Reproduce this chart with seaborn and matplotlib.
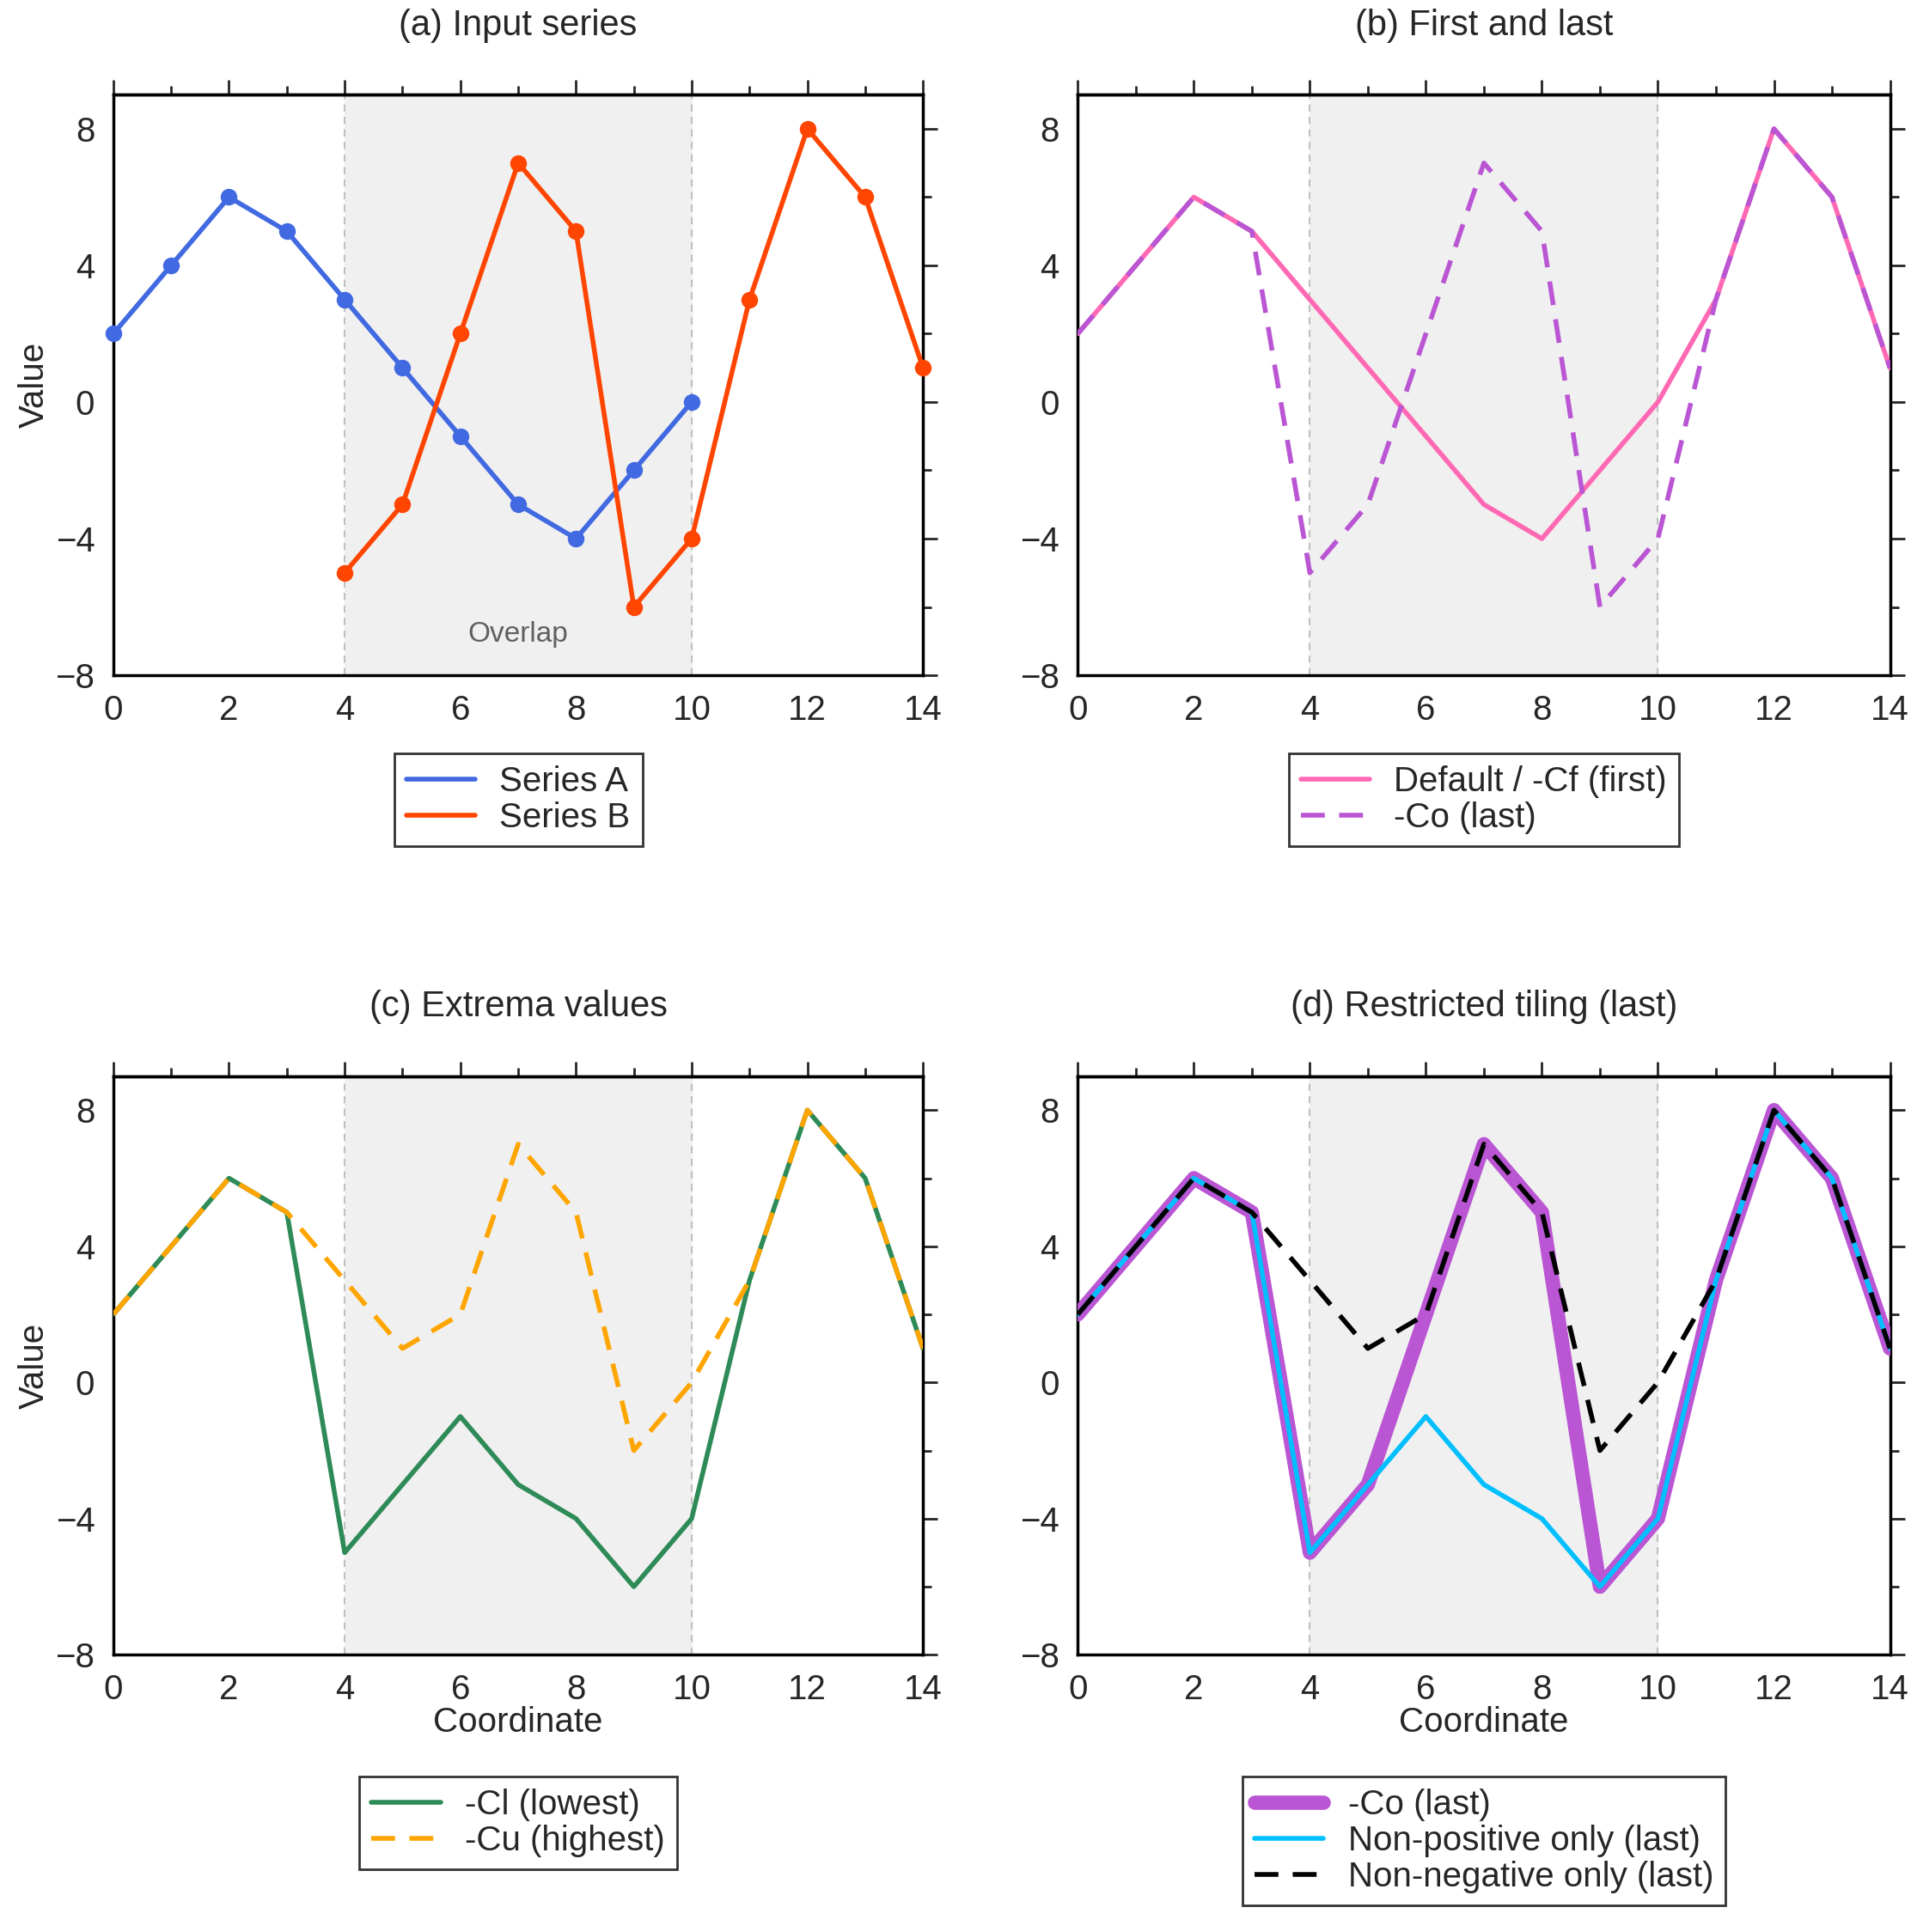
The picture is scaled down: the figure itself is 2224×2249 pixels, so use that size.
import numpy as np
import pandas as pd
import matplotlib
matplotlib.use("Agg")
import matplotlib.pyplot as plt
from matplotlib.lines import Line2D
import seaborn as sns

sns.set_style("white")
plt.rcParams['font.family'] = ['Liberation Sans', 'DejaVu Sans']

xa = list(range(0, 11))
series_a = [2, 4, 6, 5, 3, 1, -1, -3, -4, -2, 0]
xb = list(range(4, 15))
series_b = [-5, -3, 2, 7, 5, -6, -4, 3, 8, 6, 1]
xf = list(range(0, 15))
first = [2, 4, 6, 5, 3, 1, -1, -3, -4, -2, 0, 3, 8, 6, 1]
last = [2, 4, 6, 5, -5, -3, 2, 7, 5, -6, -4, 3, 8, 6, 1]
lowest = [2, 4, 6, 5, -5, -3, -1, -3, -4, -6, -4, 3, 8, 6, 1]
highest = [2, 4, 6, 5, 3, 1, 2, 7, 5, -2, 0, 3, 8, 6, 1]
nonpos = [2, 4, 6, 5, -5, -3, -1, -3, -4, -6, -4, 3, 8, 6, 1]
nonneg = [2, 4, 6, 5, 3, 1, 2, 7, 5, -2, 0, 3, 8, 6, 1]

FS = 29
fig = plt.figure(figsize=(22.24, 22.49), dpi=100)
L1, R1, L2, R2 = 0.0593, 0.483, 0.564, 0.989
T1, B1, T2, B2 = 0.951, 0.6505, 0.443, 0.1435
axes = [fig.add_axes([L1, B1, R1 - L1, T1 - B1]),
        fig.add_axes([L2, B1, R2 - L2, T1 - B1]),
        fig.add_axes([L1, B2, R1 - L1, T2 - B2]),
        fig.add_axes([L2, B2, R2 - L2, T2 - B2])]
titles = ["(a) Input series", "(b) First and last", "(c) Extrema values", "(d) Restricted tiling (last)"]

for i, ax in enumerate(axes):
    ax.axvspan(4, 10, color="#f0f0f0", zorder=0)
    for xv in (4, 10):
        ax.axvline(xv, color="#c0c0c0", ls=(0, (4, 3)), lw=1.5, zorder=1)
    ax.set_xlim(0, 14)
    ax.set_ylim(-8, 9)
    ax.set_xticks(range(0, 15, 2))
    ax.set_xticks(range(1, 15, 2), minor=True)
    ax.set_yticks([-8, -4, 0, 4, 8])
    ax.set_yticks([-6, -2, 2, 6], minor=True)
    ax.tick_params(which="both", direction="out", top=True, right=True, labelsize=FS, width=2)
    ax.tick_params(which="major", length=12)
    ax.tick_params(which="minor", length=7)
    for s in ax.spines.values():
        s.set_linewidth(2.5)
        s.set_color("black")
    ax.set_title(titles[i], fontsize=FS + 1, pad=50)
    ax.set_ylabel("Value" if i in (0, 2) else "", fontsize=FS, labelpad=4)
    ax.set_xlabel("Coordinate" if i in (2, 3) else "", fontsize=FS, labelpad=0)
    ax.plot([0, 14], [9, 9], color="black", lw=2.5, clip_on=False)

LW = 4
DASH = (0, (5, 3))
ax = axes[0]
sns.lineplot(x=xa, y=series_a, ax=ax, color="#4169e1", lw=LW, marker="o", markersize=14,
             markeredgewidth=0, clip_on=False, zorder=5)
sns.lineplot(x=xb, y=series_b, ax=ax, color="#ff4500", lw=LW, marker="o", markersize=14,
             markeredgewidth=0, clip_on=False, zorder=5)
ax.text(7, -6.8, "Overlap", ha="center", va="center", fontsize=FS - 5, color="#606060")
h0 = [Line2D([], [], color="#4169e1", lw=LW), Line2D([], [], color="#ff4500", lw=LW)]
l0 = ["Series A", "Series B"]

ax = axes[1]
sns.lineplot(x=xf, y=first, ax=ax, color="#ff69b4", lw=LW, label="Default / -Cf (first)", zorder=4)
sns.lineplot(x=xf, y=last, ax=ax, color="#ba55d3", lw=LW, ls=DASH, label="-Co (last)", zorder=5)

ax = axes[2]
sns.lineplot(x=xf, y=lowest, ax=ax, color="#2e8b57", lw=LW, label="-Cl (lowest)", zorder=4)
sns.lineplot(x=xf, y=highest, ax=ax, color="#ffa500", lw=LW, ls=DASH, label="-Cu (highest)", zorder=5)

ax = axes[3]
sns.lineplot(x=xf, y=last, ax=ax, color="#ba55d3", lw=12, label="-Co (last)", zorder=3)
sns.lineplot(x=xf, y=nonpos, ax=ax, color="#00bfff", lw=LW, label="Non-positive only (last)", zorder=4)
sns.lineplot(x=xf, y=nonneg, ax=ax, color="black", lw=LW, ls=DASH, label="Non-negative only (last)", zorder=5)

for i, ax in enumerate(axes):
    off = -0.135 if i < 2 else -0.21
    kw = dict(loc="upper center", bbox_to_anchor=(0.5, off), fontsize=FS,
              frameon=True, fancybox=False, edgecolor="black", handlelength=2.0,
              borderpad=0.35, labelspacing=0.1, borderaxespad=0, handletextpad=0.7)
    if i == 0:
        leg = ax.legend(h0, l0, **kw)
    else:
        leg = ax.legend(**kw)
    leg.get_frame().set_linewidth(2)

fig.savefig("out.png", dpi=100)
